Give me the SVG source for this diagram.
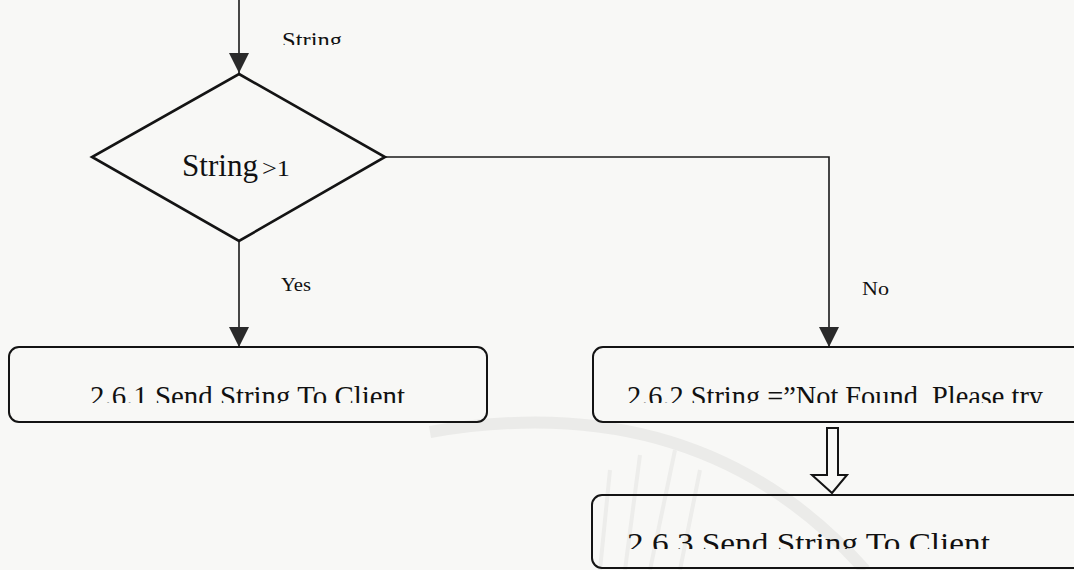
<svg xmlns="http://www.w3.org/2000/svg" width="1074" height="570" viewBox="0 0 1074 570">
  <style>
    .bg { fill: #f8f8f6; }
    .wm { fill: none; stroke: #ebebe9; stroke-width: 12; }
    .wm-thin { fill: none; stroke: #ededeb; stroke-width: 4; }
    .link { fill: none; stroke: #1a1a1a; stroke-width: 1.6; }
    .shape { fill: none; stroke: #141414; stroke-width: 2; }
    .decision { fill: none; stroke: #141414; stroke-width: 2.6; stroke-linejoin: miter; }
    .label { font-family: "Liberation Serif", "Times New Roman", serif; fill: #111; }
    .hollow { fill: #f8f8f6; stroke: #141414; stroke-width: 2; stroke-linejoin: miter; }
  </style>
  <defs>
    <marker id="head" viewBox="0 0 20 20" refX="20" refY="10" markerWidth="20" markerHeight="20" markerUnits="userSpaceOnUse" orient="auto">
      <path d="M0,0 L20,10 L0,20 Z" fill="#2a2a2a"/>
    </marker>
    <clipPath id="clip-top"><rect x="0" y="0" width="1074" height="45"/></clipPath>
    <clipPath id="clip-row1"><rect x="0" y="340" width="1074" height="63"/></clipPath>
    <clipPath id="clip-row2"><rect x="0" y="490" width="1074" height="59"/></clipPath>
  </defs>

  <rect class="bg" x="0" y="0" width="1074" height="570"/>

  <!-- faint background seal -->
  <g id="seal">
    <path class="wm" d="M430,432 Q700,385 865,570"/>
    <path class="wm-thin" d="M610,470 L600,570 M640,455 L625,570 M675,450 L650,570 M700,470 L680,570"/>
  </g>

  <!-- connectors -->
  <g id="connectors">
    <line class="link" x1="239" y1="0" x2="239" y2="73" marker-end="url(#head)"/>
    <line class="link" x1="239" y1="241" x2="239" y2="347" marker-end="url(#head)"/>
    <polyline class="link" points="385,157 829,157 829,347" marker-end="url(#head)"/>
    <!-- block arrow from 2.6.2 to 2.6.3 -->
    <path class="hollow" d="M827,428 L838,428 L838,475 L847,475 L832,493 L812,475 L827,475 Z"/>
  </g>

  <!-- edge labels -->
  <g id="edge-labels">
    <text class="label" x="282" y="48" font-size="23" textLength="60" lengthAdjust="spacingAndGlyphs" clip-path="url(#clip-top)">String</text>
    <text class="label" x="281" y="291" font-size="19" textLength="30" lengthAdjust="spacingAndGlyphs">Yes</text>
    <text class="label" x="862" y="295" font-size="19" textLength="27" lengthAdjust="spacingAndGlyphs">No</text>
  </g>

  <!-- decision -->
  <g id="node-decision">
    <polygon class="decision" points="239,74 385,157 239,241 92,157"/>
    <text class="label" x="182" y="176" font-size="31" textLength="76" lengthAdjust="spacingAndGlyphs">String</text>
    <text class="label" x="262" y="176" font-size="24" textLength="28" lengthAdjust="spacingAndGlyphs">&gt;1</text>
  </g>

  <!-- process 2.6.1 -->
  <g id="node-261">
    <rect class="shape" x="9" y="347" width="478" height="75" rx="10" ry="10"/>
    <text class="label" x="90" y="406" font-size="30" textLength="315" lengthAdjust="spacingAndGlyphs" clip-path="url(#clip-row1)">2.6.1  Send String To Client</text>
  </g>

  <!-- process 2.6.2 -->
  <g id="node-262">
    <rect class="shape" x="593" y="347" width="494" height="75" rx="10" ry="10"/>
    <text class="label" x="627" y="406" font-size="30" textLength="416" lengthAdjust="spacingAndGlyphs" clip-path="url(#clip-row1)">2.6.2 String =”Not Found, Please try</text>
  </g>

  <!-- process 2.6.3 -->
  <g id="node-263">
    <rect class="shape" x="592" y="495" width="495" height="73" rx="10" ry="10"/>
    <text class="label" x="627" y="553" font-size="30" textLength="363" lengthAdjust="spacingAndGlyphs" clip-path="url(#clip-row2)">2.6.3 Send String To Client</text>
  </g>
</svg>
